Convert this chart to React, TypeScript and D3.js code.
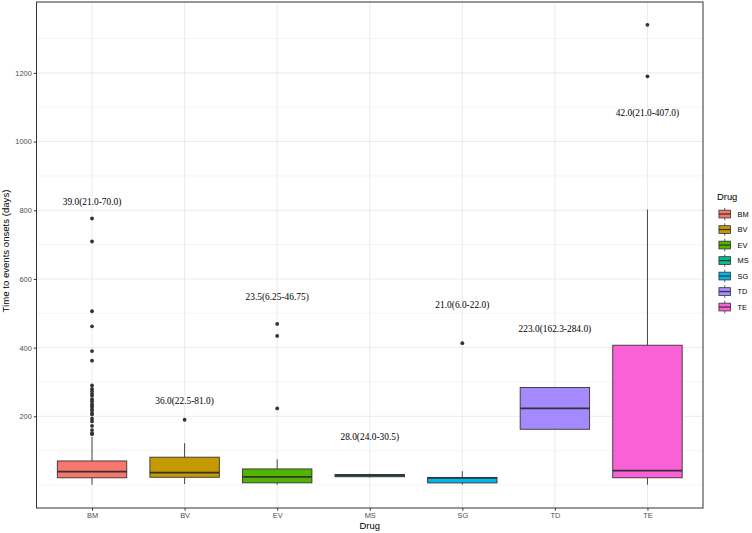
import React, { useEffect, useRef } from 'react';
import * as d3 from 'd3';

const categories = ['BM', 'BV', 'EV', 'MS', 'SG', 'TD', 'TE'];
const fills = ['#F8766D', '#C49A00', '#53B400', '#00C094', '#00B6EB', '#A58AFF', '#FB61D7'];

// box statistics (days)
const q1 = [21.0, 22.5, 6.25, 24.0, 6.0, 162.3, 21.0];
const medians = [39.0, 36.0, 23.5, 28.0, 21.0, 223.0, 42.0];
const q3 = [70.0, 81.0, 46.75, 30.5, 22.0, 284.0, 407.0];
const whiskerLow = [1, 3, 1, 22, 1, 162.3, 1];
const whiskerHigh = [140, 122, 75, 33, 40, 284, 802];

const outliers: number[][] = [
  [776, 709, 506, 462, 390, 362, 290, 280, 274, 266, 260, 250, 244, 236, 231, 225, 218, 210, 205, 193, 185, 172, 160, 151, 148],
  [190],
  [469, 434, 223],
  [],
  [413],
  [],
  [1340, 1190],
];

const labels = [
  '39.0(21.0-70.0)',
  '36.0(22.5-81.0)',
  '23.5(6.25-46.75)',
  '28.0(24.0-30.5)',
  '21.0(6.0-22.0)',
  '223.0(162.3-284.0)',
  '42.0(21.0-407.0)',
];
const labelY = [825, 245, 548, 140, 524, 455, 1083];

const yTicks = [200, 400, 600, 800, 1000, 1200];
const yMinor = [0, 100, 300, 500, 700, 900, 1100, 1300];

const sans = 'Liberation Sans, Arial, sans-serif';
const serif = 'Liberation Serif, Times New Roman, serif';

export default function App() {
  const ref = useRef<SVGSVGElement>(null);

  useEffect(() => {
    document.body.style.margin = '0';
    if (!ref.current) return;
    const svg = d3.select(ref.current);
    svg.selectAll('*').remove();

    const panel = { left: 36.5, right: 703, top: 2, bottom: 508 };

    const x = d3
      .scalePoint<string>()
      .domain(categories)
      .range([panel.left, panel.right])
      .padding(0.6);
    const y = d3.scaleLinear().domain([-67, 1406.5]).range([panel.bottom, panel.top]);
    const boxW = x.step() * 0.75;

    // panel background + grid
    svg.append('rect')
      .attr('x', panel.left).attr('y', panel.top)
      .attr('width', panel.right - panel.left).attr('height', panel.bottom - panel.top)
      .attr('fill', '#fff');

    const grid = svg.append('g');
    grid.selectAll('.minor')
      .data(yMinor)
      .enter()
      .append('line')
      .attr('x1', panel.left).attr('x2', panel.right)
      .attr('y1', (d) => y(d)).attr('y2', (d) => y(d))
      .attr('stroke', '#ebebeb').attr('stroke-width', 0.5);
    grid.selectAll('.major')
      .data(yTicks)
      .enter()
      .append('line')
      .attr('x1', panel.left).attr('x2', panel.right)
      .attr('y1', (d) => y(d)).attr('y2', (d) => y(d))
      .attr('stroke', '#ebebeb').attr('stroke-width', 1);
    grid.selectAll('.vmajor')
      .data(categories)
      .enter()
      .append('line')
      .attr('x1', (d) => x(d)!).attr('x2', (d) => x(d)!)
      .attr('y1', panel.top).attr('y2', panel.bottom)
      .attr('stroke', '#ebebeb').attr('stroke-width', 1);

    // boxes
    const boxes = svg.append('g')
      .selectAll('g')
      .data(categories)
      .enter()
      .append('g');

    boxes.append('line')
      .attr('x1', (d) => x(d)!).attr('x2', (d) => x(d)!)
      .attr('y1', (_, i) => y(q3[i])).attr('y2', (_, i) => y(whiskerHigh[i]))
      .attr('stroke', '#333').attr('stroke-width', 0.9);
    boxes.append('line')
      .attr('x1', (d) => x(d)!).attr('x2', (d) => x(d)!)
      .attr('y1', (_, i) => y(q1[i])).attr('y2', (_, i) => y(whiskerLow[i]))
      .attr('stroke', '#333').attr('stroke-width', 0.9);
    boxes.append('rect')
      .attr('x', (d) => x(d)! - boxW / 2)
      .attr('width', boxW)
      .attr('y', (_, i) => y(q3[i]))
      .attr('height', (_, i) => Math.max(0.5, y(q1[i]) - y(q3[i])))
      .attr('fill', (_, i) => fills[i])
      .attr('stroke', '#333').attr('stroke-width', 0.9);
    boxes.append('line')
      .attr('x1', (d) => x(d)! - boxW / 2).attr('x2', (d) => x(d)! + boxW / 2)
      .attr('y1', (_, i) => y(medians[i])).attr('y2', (_, i) => y(medians[i]))
      .attr('stroke', '#333').attr('stroke-width', 1.8);

    boxes.each(function (d, i) {
      d3.select(this)
        .selectAll('circle')
        .data(outliers[i])
        .enter()
        .append('circle')
        .attr('cx', x(d)!)
        .attr('cy', (v) => y(v))
        .attr('r', 1.9)
        .attr('fill', '#333');
    });

    // annotations
    svg.append('g')
      .selectAll('text')
      .data(categories)
      .enter()
      .append('text')
      .attr('x', (d) => x(d)!)
      .attr('y', (_, i) => y(labelY[i]))
      .attr('dy', '0.35em')
      .attr('text-anchor', 'middle')
      .attr('font-family', serif)
      .attr('font-size', '9.4px')
      .attr('fill', '#000')
      .text((_, i) => labels[i]);

    // panel border
    svg.append('rect')
      .attr('x', panel.left).attr('y', panel.top)
      .attr('width', panel.right - panel.left).attr('height', panel.bottom - panel.top)
      .attr('fill', 'none').attr('stroke', '#333').attr('stroke-width', 1);

    // axes
    const yAxis = svg.append('g')
      .attr('transform', `translate(${panel.left},0)`)
      .call(d3.axisLeft(y).tickValues(yTicks).tickFormat(d3.format('d')).tickSize(2.7).tickPadding(2))
      .call((g) => g.select('.domain').remove());
    yAxis.selectAll('.tick line').attr('stroke', '#333');
    yAxis.selectAll('.tick text')
      .attr('fill', '#4d4d4d').attr('font-size', '7.4px').attr('font-family', sans);

    const xAxis = svg.append('g')
      .attr('transform', `translate(0,${panel.bottom})`)
      .call(d3.axisBottom(x).tickSize(2.7).tickPadding(2))
      .call((g) => g.select('.domain').remove());
    xAxis.selectAll('.tick line').attr('stroke', '#333');
    xAxis.selectAll('.tick text')
      .attr('fill', '#4d4d4d').attr('font-size', '7.4px').attr('font-family', sans);

    svg.append('text')
      .attr('x', (panel.left + panel.right) / 2)
      .attr('y', 529)
      .attr('text-anchor', 'middle')
      .attr('font-family', sans).attr('font-size', '9.4px').attr('fill', '#000')
      .text('Drug');
    svg.append('text')
      .attr('transform', `translate(9,${(panel.top + panel.bottom) / 2 - 4}) rotate(-90)`)
      .attr('text-anchor', 'middle')
      .attr('font-family', sans).attr('font-size', '9.6px').attr('fill', '#000')
      .text('Time to events onsets (days)');

    // legend
    const key = 15.5;
    const legend = svg.append('g').attr('transform', 'translate(717,206.3)');
    legend.append('text')
      .attr('x', 0).attr('y', -6)
      .attr('font-family', sans).attr('font-size', '9.4px').attr('fill', '#000')
      .text('Drug');
    const items = legend.selectAll('.item')
      .data(categories)
      .enter()
      .append('g')
      .attr('transform', (_, i) => `translate(0,${i * key})`);
    items.append('line')
      .attr('x1', key / 2).attr('x2', key / 2)
      .attr('y1', key * 0.1).attr('y2', key * 0.9)
      .attr('stroke', '#333').attr('stroke-width', 0.8);
    items.append('rect')
      .attr('x', key * 0.125).attr('width', key * 0.75)
      .attr('y', key * 0.25).attr('height', key * 0.5)
      .attr('fill', (_, i) => fills[i])
      .attr('stroke', '#333').attr('stroke-width', 0.8);
    items.append('line')
      .attr('x1', key * 0.125).attr('x2', key * 0.875)
      .attr('y1', key / 2).attr('y2', key / 2)
      .attr('stroke', '#333').attr('stroke-width', 1.2);
    items.append('text')
      .attr('x', key + 5).attr('y', key / 2)
      .attr('dy', '0.35em')
      .attr('font-family', sans).attr('font-size', '7.4px').attr('fill', '#000')
      .text((d) => d);
  }, []);

  return <svg ref={ref} width={752} height={533} style={{ display: 'block', background: '#fff' }} />;
}
